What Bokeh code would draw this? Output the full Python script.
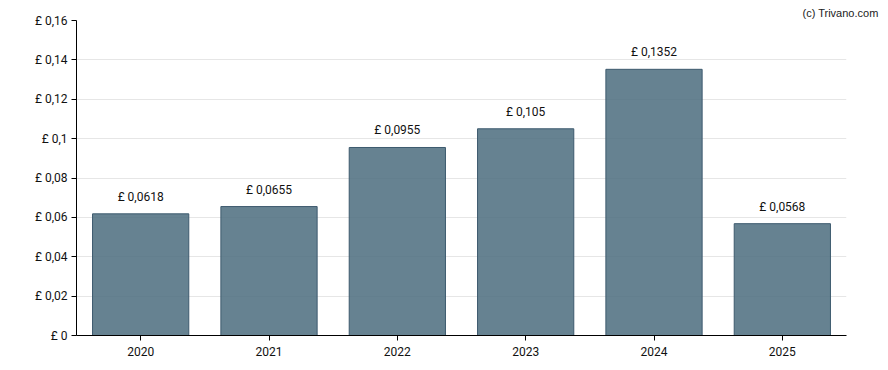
from bokeh.plotting import figure
from bokeh.models import FactorRange, Range1d, FixedTicker, CustomJSTickFormatter, ColumnDataSource, Title
from bokeh.core.properties import value
from bokeh.embed import file_html
from bokeh.resources import INLINE

years = ["2020", "2021", "2022", "2023", "2024", "2025"]
dividends = [0.0618, 0.0655, 0.0955, 0.105, 0.1352, 0.0568]
bar_labels = ["£ 0,0618", "£ 0,0655", "£ 0,0955", "£ 0,105", "£ 0,1352", "£ 0,0568"]
y_ticks = [0, 0.02, 0.04, 0.06, 0.08, 0.1, 0.12, 0.14, 0.16]

src = ColumnDataSource(dict(x=years, top=dividends, lab=bar_labels))

p = figure(width=884, height=366, x_range=FactorRange(*years, range_padding=0),
           y_range=Range1d(0, 0.16), output_backend="svg", toolbar_location=None,
           min_border_left=76, min_border_right=38, min_border_top=20, min_border_bottom=31)
p.outline_line_color = None

p.xgrid.grid_line_color = None
p.ygrid.grid_line_color = "#e6e6e6"
p.ygrid.ticker = FixedTicker(ticks=y_ticks)
p.ygrid.level = "image"

p.vbar(x="x", top="top", width=0.75, source=src, fill_color="#4b6c7e", fill_alpha=0.85,
       line_color="#3d5a6e", line_width=1)
p.text(x="x", y="top", text="lab", source=src, y_offset=-10, text_align="center",
       text_baseline="bottom", text_font=value("Roboto"), text_font_size="12px",
       text_color="#111111")

p.yaxis.ticker = FixedTicker(ticks=y_ticks)
p.yaxis.formatter = CustomJSTickFormatter(code="""
const s = String(+tick.toFixed(4)).replace('.', ',');
return '£ ' + s;
""")
for ax in (p.xaxis, p.yaxis):
    ax.axis_line_color = "black"
    ax.axis_line_width = 1
    ax.major_tick_line_color = "black"
    ax.major_tick_out = 5
    ax.major_tick_in = 0
    ax.minor_tick_line_color = None
    ax.major_label_text_font = "Roboto"
    ax.major_label_text_font_size = "12px"
    ax.major_label_text_color = "#111111"
p.yaxis.major_label_standoff = 4
p.xaxis.major_label_standoff = 6

credit = Title(text="(c) Trivano.com", align="right", offset=-32, standoff=4,
               text_font="Arial", text_font_size="11px", text_font_style="normal",
               text_color="#222222")
p.add_layout(credit, "above")

open("out.html", "w").write(file_html(p, INLINE))
